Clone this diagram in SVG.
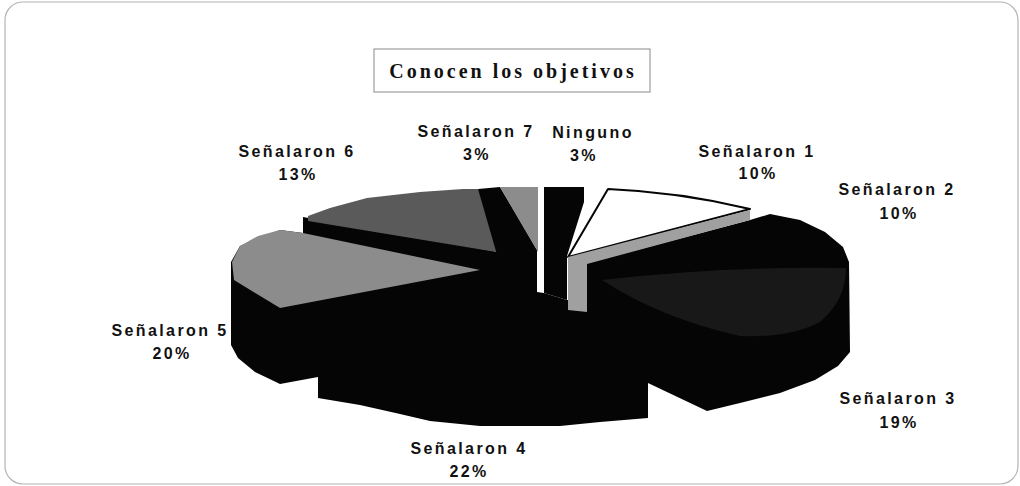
<svg xmlns="http://www.w3.org/2000/svg" width="1020" height="486" viewBox="0 0 1020 486">
<style>
.frame{fill:none;stroke:#b4b4b4;stroke-width:1.2}
.tbox{fill:#fff;stroke:#8a8a8a;stroke-width:1}
.title{font-family:"Liberation Serif","Times New Roman",serif;font-weight:bold;font-size:20px;letter-spacing:3px;fill:#111;text-anchor:middle}
.lbl{font-family:"Liberation Sans",Arial,sans-serif;font-weight:bold;font-size:16px;letter-spacing:2.4px;fill:#111;text-anchor:middle}
.blk{fill:#050505}
.g1{fill:#8c8c8c}
.g2{fill:#5a5a5a}
.g3{fill:#a0a0a0}
.dk{fill:#181818}
</style>
<rect class="frame" x="5" y="2" width="1013" height="482" rx="18" ry="18"/>
<g id="title">
<rect class="tbox" x="374" y="49" width="276" height="43"/>
<text class="title" x="513" y="78">Conocen los objetivos</text>
</g>
<g id="slice-s6">
<polygon class="blk" points="303,217 303,246 532,300 532,258"/>
<polygon class="g2" points="308,216 330,208 367,198 420,192 463,189 478,189 532,258 308,221"/>
<text class="lbl" x="297" y="157">Señalaron 6</text>
<text class="lbl" x="298" y="180">13%</text>
</g>
<g id="slice-s7">
<polygon class="blk" points="478,189 500,187 537,250 537,292 520,292 500,265"/>
<polygon class="g1" points="500,187 538,187 538,252"/>
<text class="lbl" x="476" y="137">Señalaron 7</text>
<text class="lbl" x="477" y="160">3%</text>
</g>
<g id="slice-ninguno">
<polygon class="blk" points="544,187 584,187 584,202 567,256 567,300 544,293"/>
<text class="lbl" x="593" y="138">Ninguno</text>
<text class="lbl" x="584" y="161">3%</text>
</g>
<g id="pie-body">
<polygon class="blk" points="480,270 532,260 537,292 544,293 567,300 587,300 587,263 750,220 770,214 800,220 825,232 843,247 849,262 850,352 838,366 815,380 780,393 740,403 707,411 648,383 648,418 600,422 560,426 480,426 430,421 400,414 360,405 318,398 318,377 280,384 255,372 238,358 231,345 231,262 240,246 280,230 303,233"/>
</g>
<g id="slice-s1">
<path d="M608,189 Q680,192 750,209 L568,257 Z" fill="#fff" stroke="#050505" stroke-width="2" stroke-linejoin="round"/>
<polygon class="g3" points="568,257 750,210 750,220 587,264 587,312 568,310"/>
<text class="lbl" x="757" y="157">Señalaron 1</text>
<text class="lbl" x="758" y="179">10%</text>
</g>
<g id="slice-s2">
<text class="lbl" x="897" y="195">Señalaron 2</text>
<text class="lbl" x="899" y="219">10%</text>
</g>
<g id="slice-s3">
<path class="dk" d="M602,280 Q720,266 846,268 Q846,300 820,322 Q790,338 740,336 Q660,318 602,280 Z"/>
<text class="lbl" x="898" y="404">Señalaron 3</text>
<text class="lbl" x="899" y="428">19%</text>
</g>
<g id="slice-s4">
<text class="lbl" x="469" y="454">Señalaron 4</text>
<text class="lbl" x="469" y="477">22%</text>
</g>
<g id="slice-s5">
<polygon class="g1" points="232,262 240,246 258,236 280,230 303,233 480,270 280,308 234,280"/>
<text class="lbl" x="170" y="336">Señalaron 5</text>
<text class="lbl" x="172" y="359">20%</text>
</g>
</svg>
